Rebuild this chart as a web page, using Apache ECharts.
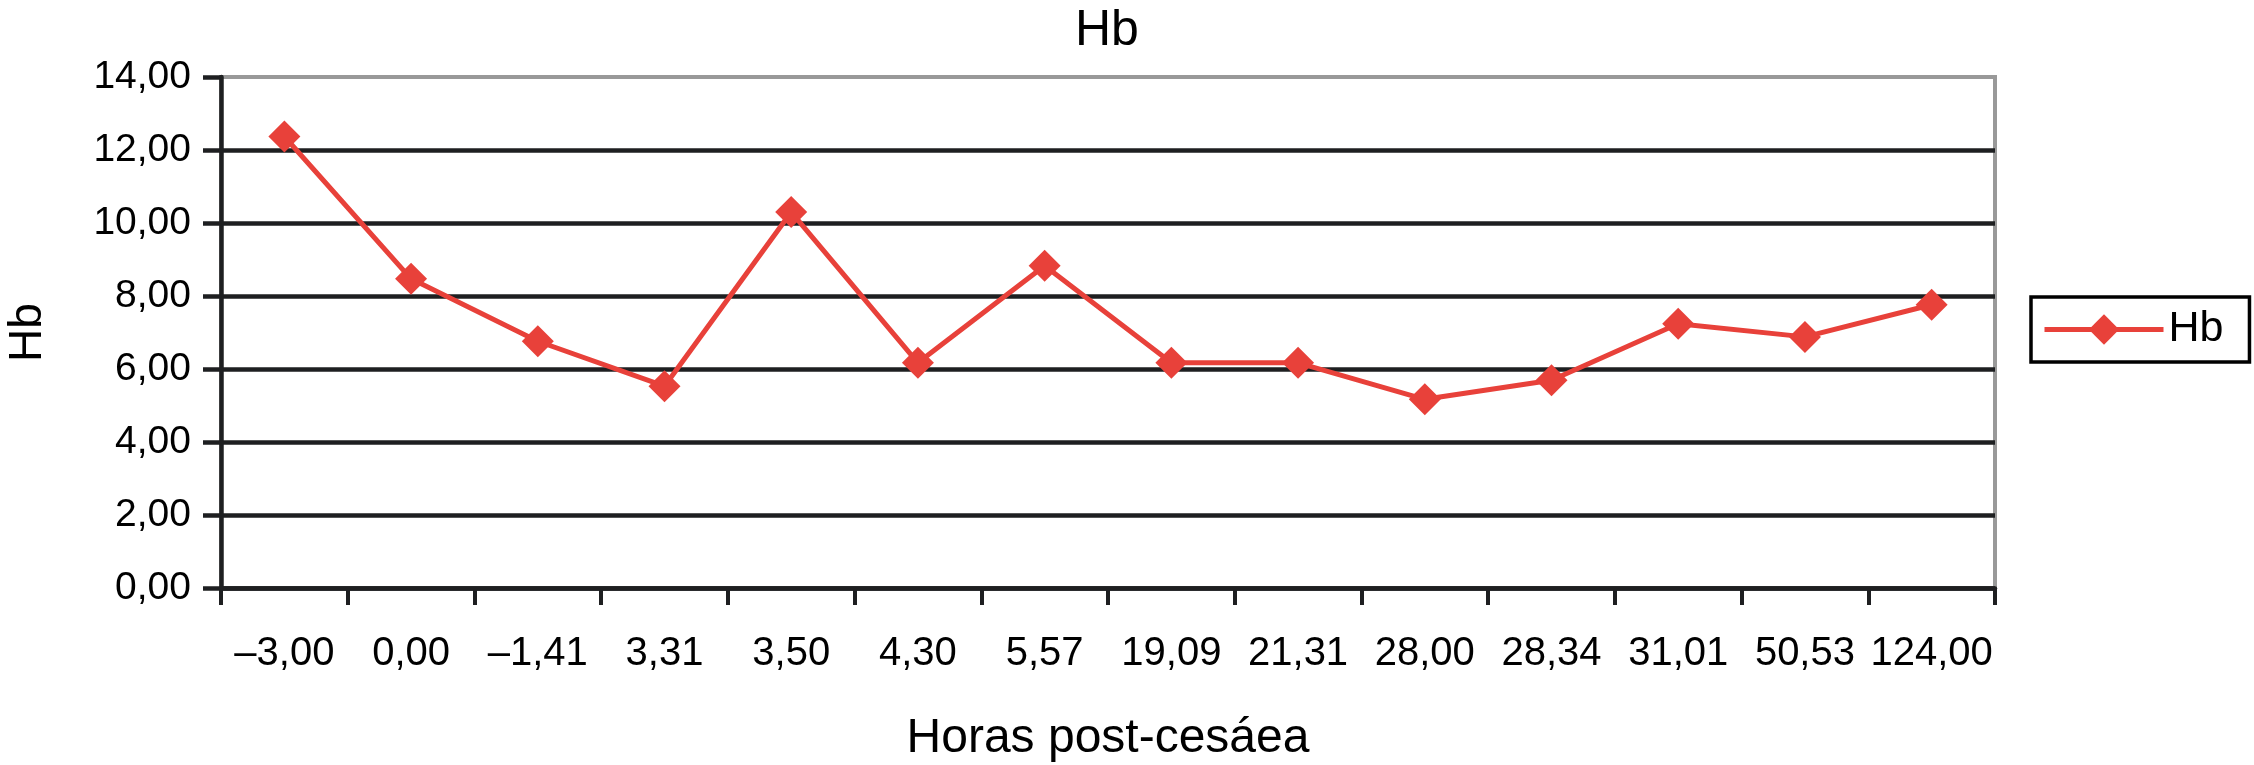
<!DOCTYPE html>
<html>
<head>
<meta charset="utf-8">
<title>Hb</title>
<script src="https://cdn.jsdelivr.net/npm/echarts@6/dist/echarts.min.js"></script>
<style>
  html, body { margin: 0; padding: 0; background: #fff; }
  #chart { width: 2254px; height: 765px; }
</style>
</head>
<body>
<div id="chart"></div>
<script>
// hours after caesarean (category labels, as printed)
const hours = ['\u20133,00', '0,00', '\u20131,41', '3,31', '3,50', '4,30', '5,57',
  '19,09', '21,31', '28,00', '28,34', '31,01', '50,53', '124,00']
// Hb values
const hb = [12.37, 8.47, 6.76, 5.53, 10.30, 6.17, 8.83, 6.17, 6.17, 5.17, 5.69, 7.24, 6.88, 7.76]
const yMin = 0
const yMax = 14
const yStep = 2

const FONT = 'Liberation Sans, Arial, Helvetica, sans-serif'
const RED = '#e8413a'
const DARK = '#1e1f21'

function fmt(v) {
  return v.toFixed(2).replace('.', ',')
}

function getOption() {
  return {
    animation: false,
    textStyle: { fontFamily: FONT, color: '#000' },
    title: {
      text: 'Hb',
      left: 1075,
      top: 6,
      padding: 0,
      textStyle: { fontFamily: FONT, fontSize: 50, fontWeight: 'normal', color: '#000' },
    },
    legend: {
      data: ['Hb'],
      left: 2031,
      top: 297,
      orient: 'vertical',
      padding: [11, 26, 11, 11],
      itemWidth: 119,
      itemHeight: 38,
      borderColor: '#000',
      borderWidth: 3.5,
      lineStyle: { width: 5 },
      textStyle: { fontFamily: FONT, fontSize: 43, color: '#000' },
    },
    grid: {
      left: 221,
      right: 259,
      top: 77,
      bottom: 177,
      outerBoundsMode: 'none',
      show: true,
      borderColor: '#999',
      borderWidth: 4,
    },
    xAxis: {
      type: 'category',
      data: hours,
      boundaryGap: true,
      name: 'Horas post-ces\u00e1ea',
      nameLocation: 'middle',
      nameGap: 127,
      nameTextStyle: { fontFamily: FONT, fontSize: 48, color: '#000' },
      axisLine: { lineStyle: { color: DARK, width: 4.5 } },
      axisTick: { show: true, inside: false, length: 17, lineStyle: { color: DARK, width: 4 } },
      axisLabel: { fontFamily: FONT, fontSize: 40, color: '#000', margin: 46, interval: 0 },
      splitLine: { show: false },
    },
    yAxis: {
      type: 'value',
      min: yMin,
      max: yMax,
      interval: yStep,
      name: 'Hb',
      nameLocation: 'middle',
      nameGap: 170,
      nameTextStyle: { fontFamily: FONT, fontSize: 46, color: '#000' },
      axisLine: { show: true, lineStyle: { color: DARK, width: 4.5 } },
      axisTick: { show: true, inside: false, length: 18, lineStyle: { color: DARK, width: 4.5 } },
      axisLabel: { fontFamily: FONT, fontSize: 39, color: '#000', margin: 30, formatter: fmt },
      splitLine: { show: true, showMaxLine: false, lineStyle: { color: DARK, width: 4.5 } },
    },
    series: [
      {
        name: 'Hb',
        type: 'line',
        data: hb,
        symbol: 'diamond',
        symbolSize: 32,
        lineStyle: { color: RED, width: 5 },
        itemStyle: { color: RED },
        z: 5,
      },
    ],
  }
}

const chart = echarts.init(document.getElementById('chart'), null, { renderer: 'canvas' })
chart.setOption(getOption())
</script>
</body>
</html>
